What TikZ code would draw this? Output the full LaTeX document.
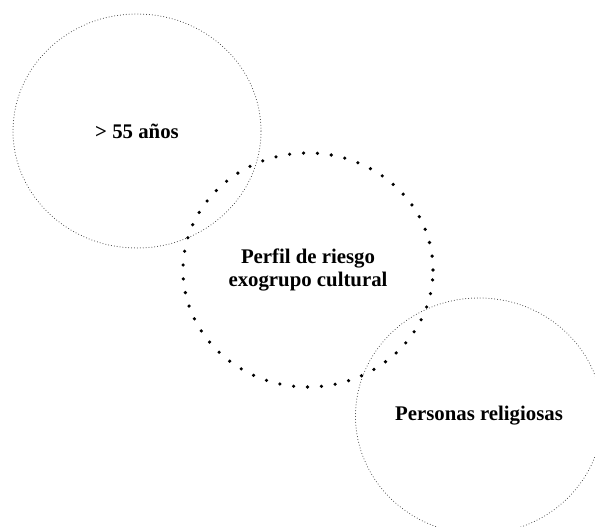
\documentclass[tikz,border=0pt]{standalone}
\usepackage{fontspec}
\setmainfont{Liberation Serif}
\usetikzlibrary{shapes.geometric}
\tikzset{
  setbox/.style={ellipse, minimum width=248pt, minimum height=234pt, inner sep=0pt, outer sep=0pt,
    align=center, font=\bfseries\fontsize{20.8}{23}\selectfont},
  thindots/.style={draw=black!80, line width=1pt, dash pattern=on 0pt off 2.9pt, line cap=round},
  bigdots/.style={draw=black, line width=3.6pt, dash pattern=on 0pt off 13.9pt, line cap=round}
}
\begin{document}
\begin{tikzpicture}[x=1pt,y=1pt]
\useasboundingbox (0,0) rectangle (595,527);
\clip (0,0) rectangle (595,527);
\node[setbox, thindots] (edad) at (137,396) {> 55 años};
\node[setbox, thindots, minimum width=247pt, minimum height=236pt] (relig) at (479,111) {Personas religiosas};
\node[setbox, bigdots, minimum width=250pt, minimum height=234pt] (perfil) at (308,257) {Perfil de riesgo\\exogrupo cultural};
\end{tikzpicture}
\end{document}
